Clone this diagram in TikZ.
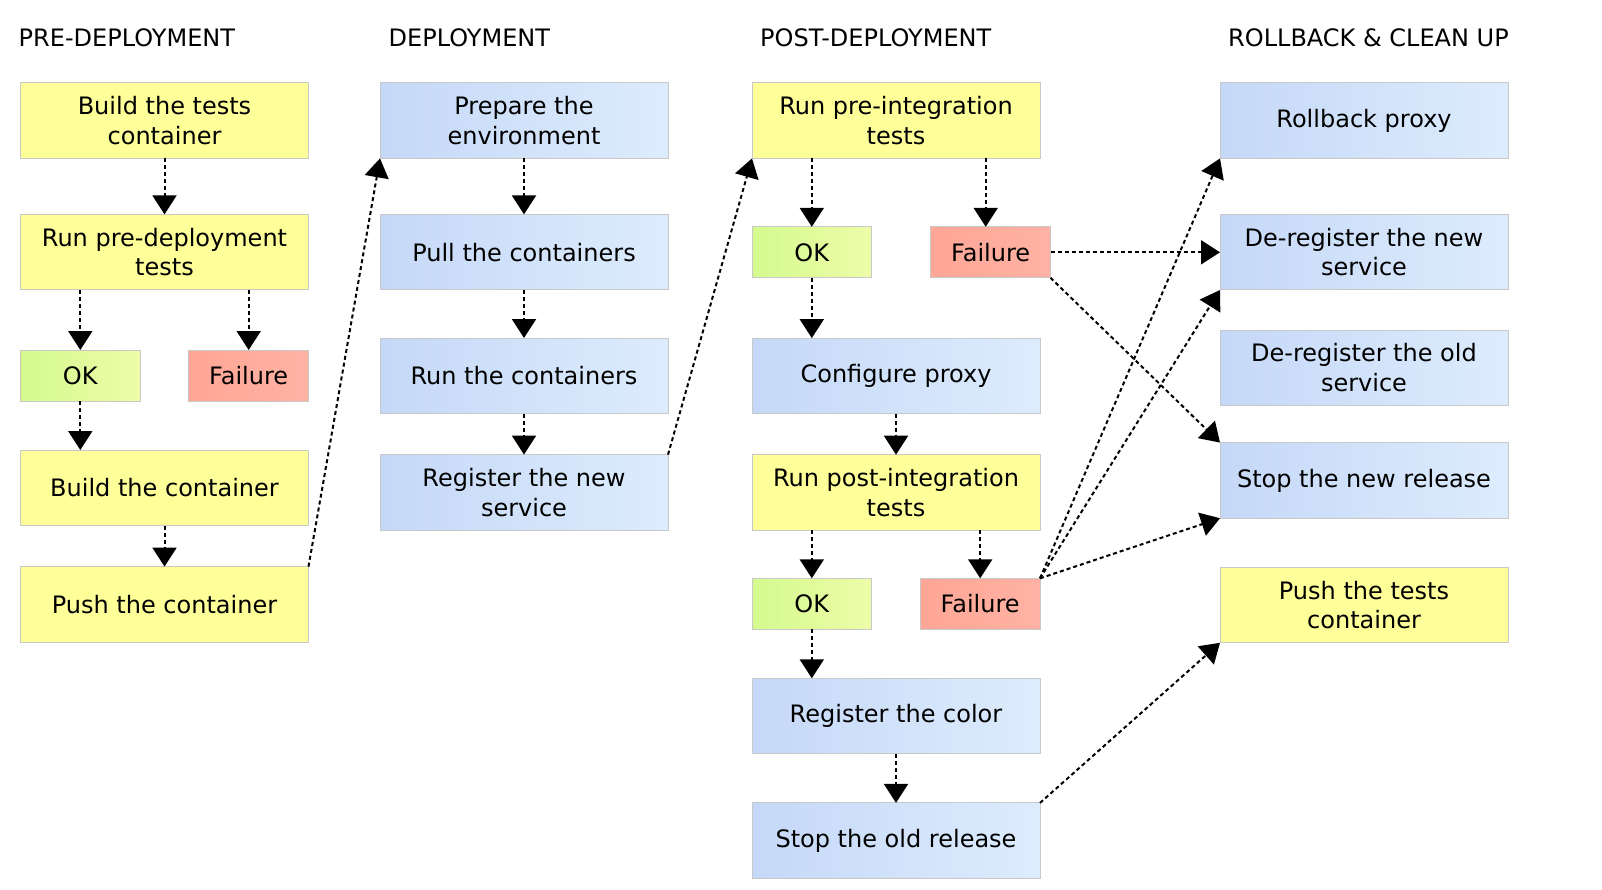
\documentclass[tikz,border=0pt]{standalone}
\usepackage{fontspec}
\setmainfont{DejaVu Sans}
\usetikzlibrary{positioning, arrows.meta}

\definecolor{yellowfill}{HTML}{FFFF99}
\definecolor{blueleft}{HTML}{C5D8F7}
\definecolor{blueright}{HTML}{DDECFD}
\definecolor{okleft}{HTML}{D4FA8E}
\definecolor{okright}{HTML}{EDFCA8}
\definecolor{failleft}{HTML}{FFA696}
\definecolor{failright}{HTML}{FFB2A4}
\definecolor{boxline}{HTML}{C8C8C8}

\tikzset{
  stage/.style={draw=boxline, line width=1pt, minimum width=288pt, minimum height=75.6pt, align=center, inner sep=0pt, outer sep=0pt},
  testbox/.style={stage, fill=yellowfill},
  taskbox/.style={stage, left color=blueleft, right color=blueright},
  result/.style={draw=boxline, line width=1pt, minimum width=119.6pt, minimum height=51pt, inner sep=0pt, outer sep=0pt},
  okbox/.style={result, left color=okleft, right color=okright},
  failbox/.style={result, left color=failleft, right color=failright},
  phase/.style={anchor=base west, inner sep=0pt},
  flow/.style={line width=2pt, dash pattern=on 4pt off 3pt, -{Triangle[length=19pt, width=24pt]}}
}

\begin{document}
\begin{tikzpicture}[x=1pt, y=1pt, font=\fontsize{24}{29.5}\selectfont]
\useasboundingbox (0,0) rectangle (1602,-890);

% Phase titles
\node[phase] (pre) at (18.5,-46.5) {PRE-DEPLOYMENT};
\node[phase] (deploy) at (388.5,-46.5) {DEPLOYMENT};
\node[phase] (post) at (760,-46.5) {POST-DEPLOYMENT};
\node[phase] (rollback) at (1228,-46.5) {ROLLBACK \& CLEAN UP};

% Pre-deployment nodes
\node[testbox] (buildtests) at (164.5,-120.6) {Build the tests\\container};
\node[testbox, below=56pt of buildtests] (predeploy) {Run pre-deployment\\tests};
\node[okbox, below=60pt of predeploy.south west, anchor=north west] (okpre) {OK};
\node[failbox, below=60pt of predeploy.south east, anchor=north east] (failpre) {Failure};
\node[testbox, below=49pt of okpre.south west, anchor=north west] (build) {Build the container};
\node[testbox, below=41pt of build] (push) {Push the container};

% Deployment nodes
\node[taskbox] (prepare) at (524,-120.6) {Prepare the\\environment};
\node[taskbox, below=56pt of prepare] (pull) {Pull the containers};
\node[taskbox, below=48pt of pull] (run) {Run the containers};
\node[taskbox, below=41pt of run] (register) {Register the new\\service};

% Post-deployment nodes
\node[testbox] (preint) at (896,-120.6) {Run pre-integration\\tests};
\node[okbox, below=68.4pt of preint.south west, anchor=north west] (okpreint) {OK};
\node[failbox, right=59.3pt of okpreint] (failpreint) {Failure};
\node[taskbox, below=60.3pt of okpreint.south west, anchor=north west] (proxy) {Configure proxy};
\node[testbox, below=41pt of proxy] (postint) {Run post-integration\\tests};
\node[okbox, below=48pt of postint.south west, anchor=north west] (okpostint) {OK};
\node[failbox, below=48pt of postint.south east, anchor=north east] (failpostint) {Failure};
\node[taskbox, below=49pt of okpostint.south west, anchor=north west] (color) {Register the color};
\node[taskbox, below=49pt of color] (stopold) {Stop the old release};

% Rollback and clean up nodes
\node[taskbox] (rbproxy) at (1364,-120.6) {Rollback proxy};
\node[taskbox, below=56pt of rbproxy] (deregnew) {De-register the new\\service};
\node[taskbox, below=40pt of deregnew] (deregold) {De-register the old\\service};
\node[taskbox, below=37pt of deregold] (stopnew) {Stop the new release};
\node[testbox, below=49pt of stopnew] (pushtests) {Push the tests\\container};

% Pre-deployment connections
\draw[flow] (buildtests) -- (predeploy);
\draw[flow] (predeploy.south -| okpre) -- (okpre.north);
\draw[flow] (predeploy.south -| failpre) -- (failpre.north);
\draw[flow] (okpre.south) -- (okpre.south |- build.north);
\draw[flow] (build) -- (push);
\draw[flow] (push.north east) -- (prepare.south west);

% Deployment connections
\draw[flow] (prepare) -- (pull);
\draw[flow] (pull) -- (run);
\draw[flow] (run) -- (register);
\draw[flow] (register.north east) -- (preint.south west);

% Post-deployment connections
\draw[flow] (preint.south -| okpreint) -- (okpreint.north);
\draw[flow] ([xshift=-5pt]preint.south -| failpreint) -- ([xshift=-5pt]failpreint.north);
\draw[flow] (okpreint.south) -- (okpreint.south |- proxy.north);
\draw[flow] (proxy) -- (postint);
\draw[flow] (postint.south -| okpostint) -- (okpostint.north);
\draw[flow] (postint.south -| failpostint) -- (failpostint.north);
\draw[flow] (okpostint.south) -- (okpostint.south |- color.north);
\draw[flow] (color) -- (stopold);

% Rollback connections
\draw[flow] (failpreint.east) -- (failpreint.east -| deregnew.west);
\draw[flow] (failpreint.south east) -- (stopnew.north west);
\draw[flow] (failpostint.north east) -- (rbproxy.south west);
\draw[flow] (failpostint.north east) -- (deregnew.south west);
\draw[flow] (failpostint.north east) -- (stopnew.south west);
\draw[flow] (stopold.north east) -- (pushtests.south west);

\end{tikzpicture}
\end{document}
